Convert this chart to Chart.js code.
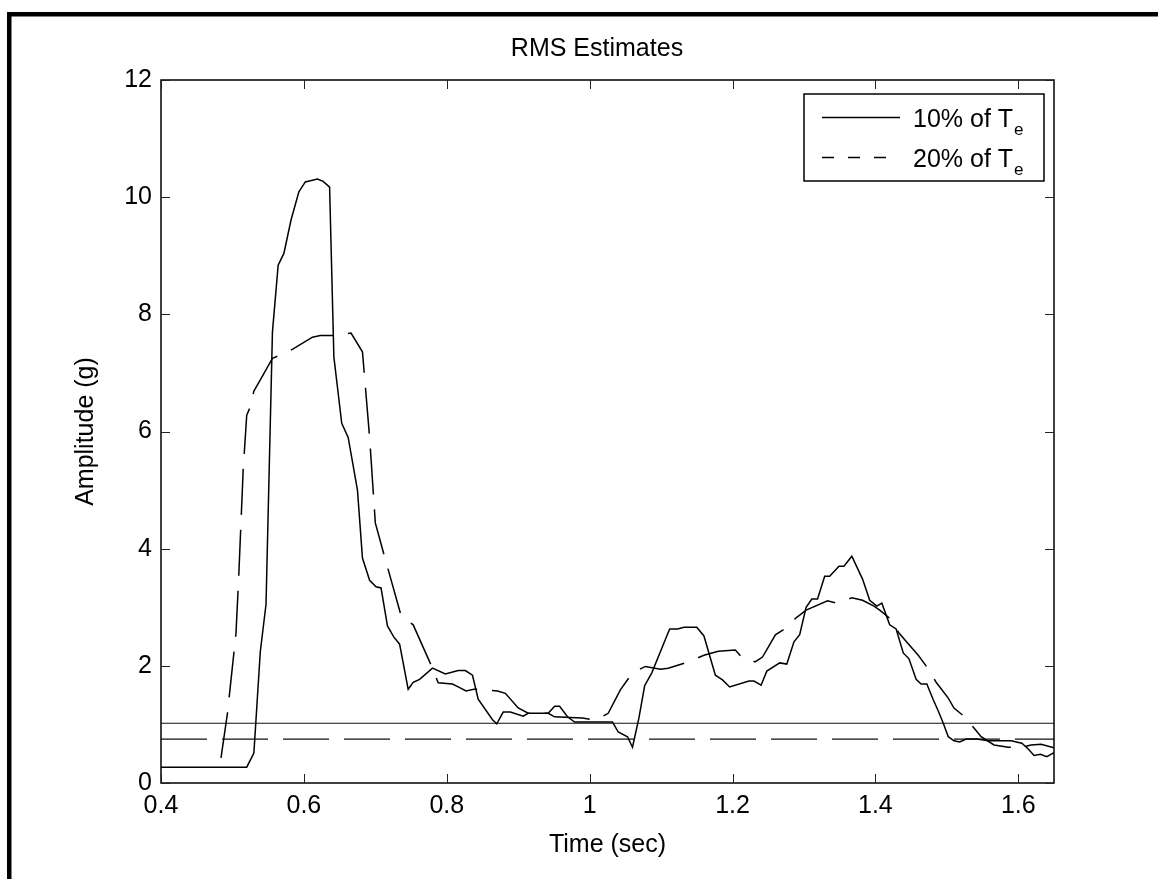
<!DOCTYPE html>
<html><head><meta charset="utf-8">
<script src="https://cdn.jsdelivr.net/npm/chart.js@4.4.0/dist/chart.umd.min.js"></script>
<style>html,body{margin:0;padding:0;background:#fff;}canvas{display:block;}</style>
</head><body>
<canvas id="c" width="1158" height="879"></canvas>
<script>
const titleText = 'RMS Estimates';
const xAxisLabel = 'Time (sec)';
const yAxisLabel = 'Amplitude (g)';
const seriesNames = ['10% of T', '20% of T'];
const seriesSub = 'e';

const time10 = [0.400,0.520,0.530,0.539,0.547,0.556,0.564,0.572,0.582,0.593,0.602,0.619,0.627,0.636,0.642,0.653,0.662,0.675,0.682,0.692,0.701,0.708,0.717,0.726,0.734,0.746,0.753,0.762,0.780,0.798,0.816,0.826,0.836,0.844,0.864,0.870,0.879,0.889,0.907,0.914,0.942,0.951,0.958,0.969,0.979,1.032,1.040,1.053,1.060,1.069,1.077,1.087,1.104,1.112,1.123,1.132,1.150,1.160,1.176,1.186,1.196,1.223,1.230,1.240,1.248,1.266,1.276,1.286,1.294,1.303,1.311,1.319,1.329,1.336,1.349,1.356,1.367,1.382,1.392,1.402,1.409,1.420,1.429,1.439,1.447,1.457,1.464,1.472,1.481,1.488,1.495,1.502,1.510,1.518,1.527,1.542,1.558,1.590,1.605,1.614,1.622,1.631,1.640,1.650];
const rms10 = [0.27,0.27,0.51,2.24,3.05,7.70,8.84,9.04,9.61,10.09,10.26,10.31,10.27,10.17,7.27,6.14,5.90,5.00,3.84,3.46,3.35,3.33,2.68,2.49,2.37,1.60,1.72,1.77,1.96,1.86,1.92,1.92,1.84,1.43,1.08,1.01,1.21,1.21,1.14,1.19,1.19,1.31,1.31,1.13,1.04,1.04,0.87,0.79,0.61,1.11,1.66,1.88,2.39,2.63,2.63,2.66,2.66,2.51,1.84,1.76,1.64,1.74,1.74,1.67,1.91,2.05,2.03,2.41,2.53,3.00,3.14,3.14,3.53,3.53,3.70,3.70,3.87,3.48,3.12,3.02,3.07,2.70,2.63,2.22,2.12,1.77,1.69,1.69,1.42,1.23,1.02,0.79,0.72,0.70,0.75,0.75,0.72,0.72,0.68,0.58,0.47,0.49,0.45,0.52];

const time20 = [0.484,0.493,0.505,0.509,0.515,0.520,0.525,0.530,0.539,0.556,0.564,0.585,0.612,0.623,0.642,0.666,0.682,0.692,0.700,0.713,0.736,0.753,0.780,0.788,0.808,0.816,0.827,0.838,0.850,0.871,0.882,0.900,0.914,0.942,0.951,0.973,0.990,1.008,1.026,1.043,1.060,1.078,1.099,1.110,1.139,1.160,1.180,1.204,1.216,1.232,1.242,1.260,1.273,1.289,1.303,1.333,1.346,1.367,1.382,1.398,1.406,1.419,1.433,1.445,1.460,1.472,1.485,1.502,1.510,1.524,1.538,1.548,1.566,1.586,1.604,1.618,1.632,1.650];
const rms20 = [0.43,1.19,2.56,3.58,5.34,6.28,6.42,6.69,6.88,7.25,7.29,7.41,7.61,7.64,7.64,7.68,7.36,5.90,4.44,3.86,2.86,2.70,1.96,1.71,1.69,1.64,1.57,1.60,1.60,1.57,1.53,1.28,1.19,1.19,1.13,1.12,1.11,1.07,1.19,1.59,1.88,1.99,1.94,1.96,2.07,2.18,2.25,2.27,2.10,2.07,2.15,2.53,2.63,2.82,2.95,3.11,3.07,3.16,3.12,3.02,2.95,2.82,2.56,2.39,2.18,1.98,1.72,1.45,1.28,1.14,0.94,0.79,0.65,0.61,0.61,0.65,0.66,0.60];

const threshold10 = 1.02;
const threshold20 = 0.75;
const xRange = [0.4, 1.65];
const yRange = [0, 12];
const xTickValues = [0.4, 0.6, 0.8, 1.0, 1.2, 1.4, 1.6];
const xTickLabels = ['0.4', '0.6', '0.8', '1', '1.2', '1.4', '1.6'];
const yTickValues = [0, 2, 4, 6, 8, 10, 12];
const yTickLabels = ['0', '2', '4', '6', '8', '10', '12'];

const FONT = '"Liberation Sans", Arial, Helvetica, sans-serif';
Chart.defaults.font.family = FONT;
Chart.defaults.color = '#000';

const pts = (xs, ys) => xs.map((x, i) => ({x: x, y: ys[i]}));
const DASH = [46, 15];

const decor = {
  id: 'decor',
  beforeDraw(chart) {
    const ctx = chart.ctx;
    ctx.save();
    ctx.fillStyle = '#fff';
    ctx.fillRect(0, 0, chart.width, chart.height);
    ctx.restore();
  },
  afterDatasetsDraw(chart) {
    const ctx = chart.ctx;
    const a = chart.chartArea;
    const xs = chart.scales.x, ys = chart.scales.y;
    ctx.save();
    ctx.strokeStyle = '#000';
    ctx.lineWidth = 1.5;
    ctx.strokeRect(a.left, a.top, a.right - a.left, a.bottom - a.top);
    const TL = 9;
    ctx.lineWidth = 1;
    ctx.strokeStyle = '#222';
    ctx.beginPath();
    xTickValues.forEach(v => {
      const px = Math.round(xs.getPixelForValue(v)) + 0.5;
      ctx.moveTo(px, a.bottom); ctx.lineTo(px, a.bottom - TL);
      ctx.moveTo(px, a.top); ctx.lineTo(px, a.top + TL);
    });
    yTickValues.forEach(v => {
      const py = Math.round(ys.getPixelForValue(v)) + 0.5;
      ctx.moveTo(a.left, py); ctx.lineTo(a.left + TL, py);
      ctx.moveTo(a.right, py); ctx.lineTo(a.right - TL, py);
    });
    ctx.stroke();

    // legend
    const L = {x: 804, y: 94, w: 240, h: 87};
    ctx.fillStyle = '#fff';
    ctx.fillRect(L.x, L.y, L.w, L.h);
    ctx.strokeStyle = '#000';
    ctx.lineWidth = 1.5;
    ctx.strokeRect(L.x, L.y, L.w, L.h);
    const rows = [{y: 117, base: 127, dash: []}, {y: 157, base: 167, dash: [12, 14]}];
    rows.forEach((r, i) => {
      ctx.beginPath();
      ctx.setLineDash(r.dash);
      ctx.lineWidth = 1.5;
      ctx.moveTo(822, r.y + 0.5); ctx.lineTo(900, r.y + 0.5);
      ctx.stroke();
      ctx.setLineDash([]);
      ctx.fillStyle = '#000';
      ctx.textBaseline = 'alphabetic';
      ctx.textAlign = 'left';
      ctx.font = '25px ' + FONT;
      ctx.fillText(seriesNames[i], 913, r.base);
      const w = ctx.measureText(seriesNames[i]).width;
      ctx.font = '17px ' + FONT;
      ctx.fillText(seriesSub, 913 + w + 1, r.base + 8);
    });
    ctx.restore();
  },
  afterDraw(chart) {
    const ctx = chart.ctx;
    ctx.save();
    ctx.fillStyle = '#000';
    ctx.font = '25px ' + FONT;
    ctx.textAlign = 'center';
    ctx.textBaseline = 'alphabetic';
    ctx.fillText(titleText, 597, 56);
    // outer frame (top and left edges)
    ctx.fillRect(7, 12, chart.width - 7, 4.5);
    ctx.fillRect(7, 12, 4.5, chart.height - 12);
    ctx.restore();
  }
};

new Chart(document.getElementById('c'), {
  type: 'line',
  data: {
    datasets: [
      {label: seriesNames[0] + seriesSub, data: pts(time10, rms10), borderColor: '#000', borderWidth: 1.5, pointRadius: 0, tension: 0, fill: false},
      {label: seriesNames[1] + seriesSub, data: pts(time20, rms20), borderColor: '#000', borderWidth: 1.5, borderDash: DASH, pointRadius: 0, tension: 0, fill: false},
      {label: 'thr10', data: pts(xRange, [threshold10, threshold10]), borderColor: '#111', borderWidth: 1.2, pointRadius: 0, fill: false},
      {label: 'thr20', data: pts(xRange, [threshold20, threshold20]), borderColor: '#111', borderWidth: 1.2, borderDash: DASH, pointRadius: 0, fill: false}
    ]
  },
  options: {
    responsive: false,
    animation: false,
    devicePixelRatio: 1,
    layout: {padding: {left: 0, top: 80, right: 104, bottom: 0}},
    plugins: {legend: {display: false}, title: {display: false}, tooltip: {enabled: false}},
    scales: {
      x: {
        type: 'linear', min: xRange[0], max: xRange[1],
        grid: {display: false, drawTicks: false},
        border: {display: false},
        afterBuildTicks: s => { s.ticks = xTickValues.map(v => ({value: v})); },
        afterFit: s => { s.height = 96; },
        ticks: {autoSkip: false, maxRotation: 0, padding: 8, font: {size: 25}, color: '#000',
                callback: (v, i) => xTickLabels[i]},
        title: {display: true, text: xAxisLabel, font: {size: 25}, color: '#000', padding: {top: 0, bottom: 19}}
      },
      y: {
        type: 'linear', min: yRange[0], max: yRange[1],
        grid: {display: false, drawTicks: false},
        border: {display: false},
        afterBuildTicks: s => { s.ticks = yTickValues.map(v => ({value: v})); },
        afterFit: s => { s.width = 161; },
        ticks: {autoSkip: false, padding: 9, font: {size: 25}, color: '#000',
                callback: (v, i) => yTickLabels[i]},
        title: {display: true, text: yAxisLabel, font: {size: 25}, color: '#000', padding: {top: 71, bottom: 0}}
      }
    }
  },
  plugins: [decor]
});
</script>
</body></html>
